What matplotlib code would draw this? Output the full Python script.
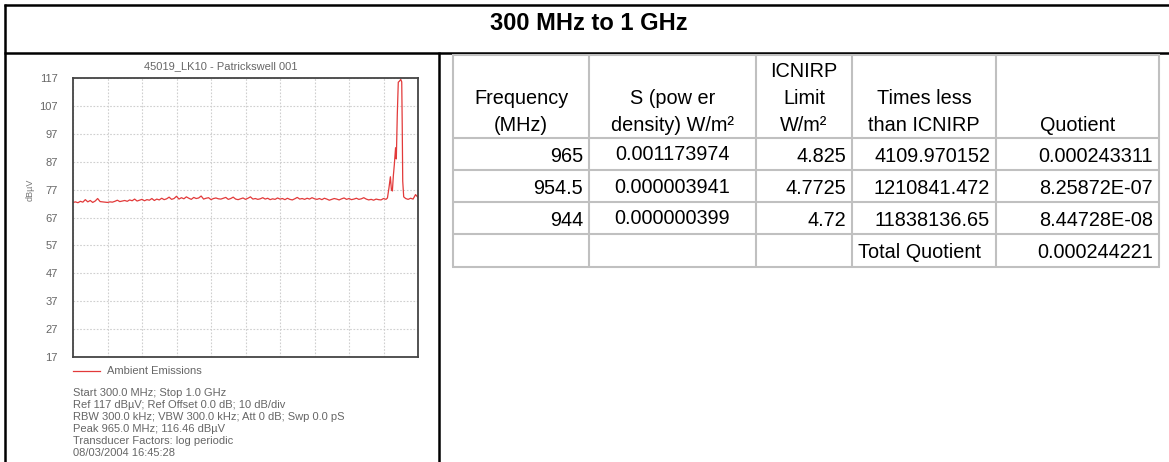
import numpy as np
import matplotlib
matplotlib.use("Agg")
import matplotlib.pyplot as plt
from matplotlib.lines import Line2D

plt.rcParams['font.family'] = ['Liberation Sans', 'DejaVu Sans']

# ---------------- data ----------------
page_title = "300 MHz to 1 GHz"
chart_title = "45019_LK10 - Patrickswell 001"
y_label = "dBµV"
y_ticks = [17, 27, 37, 47, 57, 67, 77, 87, 97, 107, 117]
x_start_mhz = 300
x_stop_mhz = 1000
legend_label = "Ambient Emissions"
info_lines = [
    "Start 300.0 MHz; Stop 1.0 GHz",
    "Ref 117 dBµV; Ref Offset 0.0 dB; 10 dB/div",
    "RBW 300.0 kHz; VBW 300.0 kHz; Att 0 dB; Swp 0.0 pS",
    "Peak 965.0 MHz; 116.46 dBµV",
    "Transducer Factors: log periodic",
    "08/03/2004 16:45:28",
]

# trace: baseline sweep (300..935 MHz in 5 MHz steps)
baseline_freq = np.arange(300, 936, 5)
baseline_level = [
    72.4, 72.6, 72.3, 72.8, 72.5, 73.4, 72.6, 73.1, 72.4, 72.9, 73.8, 72.7, 72.6, 72.5, 72.4, 72.6, 72.5, 72.8, 73.2, 72.7, 72.9,
    73.1, 72.8, 73.3, 73.0, 73.6, 72.9, 73.2, 73.5, 73.0, 73.4, 73.2, 73.8, 73.1, 73.6, 73.3, 73.9, 73.4, 73.7, 74.3, 73.5,
    73.8, 74.6, 73.6, 74.1, 73.7, 74.4, 73.9, 73.5, 74.2, 73.8, 74.0, 74.7, 73.6, 73.9, 74.1, 73.4, 73.8, 74.0, 73.7, 73.6,
    73.9, 74.2, 73.5, 73.8, 74.3, 73.6, 73.4, 73.7, 74.0, 73.5, 73.9, 74.4, 73.6, 73.8, 73.5, 73.7, 74.1, 73.6, 73.9, 73.4,
    73.7, 73.5, 74.0, 73.6, 73.8, 73.4, 73.9, 73.5, 73.3, 73.7, 74.2, 73.6, 73.8, 73.5, 73.9, 73.6, 74.1, 73.7, 73.5, 73.8,
    73.4, 73.9, 73.6, 73.2, 73.5, 73.8, 73.6, 73.3, 73.7, 74.0, 73.5, 73.8, 73.4, 73.6, 73.9, 73.5, 73.7, 74.1, 73.6, 73.3,
    73.5, 73.2, 73.6, 73.4, 73.3, 73.8, 73.5,
]
# trace: emission region near the top of the band
peak_freq = [938, 941, 944, 946, 948, 950, 952, 954.5, 956, 958, 960, 962, 965, 967, 968, 969, 971, 975, 980, 985, 990, 995, 1000]
peak_level = [74.0, 77.5, 81.6, 77.0, 76.5, 82.0, 86.0, 92.0, 88.0, 104.0, 115.5, 115.8, 116.46, 115.6, 100.0, 80.0, 74.4, 73.8, 73.5, 73.9, 73.6, 75.2, 74.2]

# table
table_headers = [
    ["Frequency", "(MHz)"],
    ["S (pow er", "density) W/m²"],
    ["ICNIRP", "Limit", "W/m²"],
    ["Times less", "than ICNIRP"],
    ["Quotient"],
]
col_frequency = ["965", "954.5", "944", ""]
col_power_density = ["0.001173974", "0.000003941", "0.000000399", ""]
col_icnirp_limit = ["4.825", "4.7725", "4.72", ""]
col_times_less = ["4109.970152", "1210841.472", "11838136.65", "Total Quotient"]
col_quotient = ["0.000243311", "8.25872E-07", "8.44728E-08", "0.000244221"]

# ---------------- figure ----------------
W, H = 1169, 462
fig = plt.figure(figsize=(W / 100, H / 100), dpi=100)


def fx(x):
    return x / W


def fy(y):
    return 1 - y / H


def hline(y, x0, x1, **kw):
    fig.add_artist(Line2D([fx(x0), fx(x1)], [fy(y), fy(y)], transform=fig.transFigure, **kw))


def vline(x, y0, y1, **kw):
    fig.add_artist(Line2D([fx(x), fx(x)], [fy(y0), fy(y1)], transform=fig.transFigure, **kw))


# outer frame
frame_kw = dict(color="black", lw=1.8, solid_capstyle="butt")
hline(5, 4, W, **frame_kw)
hline(52.5, 4, W, **frame_kw)
vline(5, 4, H, **frame_kw)
vline(439, 52, H, **frame_kw)

fig.text(fx(589), fy(29.5), page_title, ha="center", va="baseline",
         fontsize=17, fontweight="bold", color="black")

# ---------------- chart ----------------
ax_l, ax_r, ax_t, ax_b = 73, 418, 78, 357
ax = fig.add_axes([fx(ax_l), fy(ax_b), (ax_r - ax_l) / W, (ax_b - ax_t) / H])
freq_all = np.concatenate([baseline_freq, peak_freq])
level_all = np.concatenate([baseline_level, peak_level])
ax.plot(freq_all, level_all, color="#e23a3a", lw=0.9)
ax.set_xlim(x_start_mhz, x_stop_mhz)
ax.set_ylim(y_ticks[0], y_ticks[-1])
ax.set_yticks(y_ticks)
ax.set_xticks(np.linspace(x_start_mhz, x_stop_mhz, 11))
ax.set_xticklabels([])
ax.tick_params(length=0, labelsize=8, labelcolor="#666666", pad=11)
ax.grid(True, color="#cfcfcf", lw=0.8, ls=(0, (1.5, 1.5)))
for s in ax.spines.values():
    s.set_color("#444444")
    s.set_linewidth(1.3)

fig.text(fx(220.5), fy(66), chart_title, ha="center", va="center", fontsize=8, color="#666666")
fig.text(fx(30), fy(190), y_label, ha="center", va="center", rotation=90, fontsize=6.5, color="#777777")

# legend
fig.add_artist(Line2D([fx(73), fx(100)], [fy(371), fy(371)], transform=fig.transFigure,
                      color="#e23a3a", lw=0.9))
fig.text(fx(107), fy(371), legend_label, ha="left", va="center", fontsize=8, color="#666666")

for i, line in enumerate(info_lines):
    fig.text(fx(73), fy(396.5 + 11.8 * i), line, ha="left", va="baseline", fontsize=8, color="#666666")

# ---------------- table ----------------
col_edges = [453, 589, 756, 852, 996, 1159]
row_edges = [55, 138, 170, 202, 234, 267]
grid_kw = dict(color="#c0c0c0", lw=1.5, solid_capstyle="butt")
for y in row_edges:
    hline(y, col_edges[0] - 1, col_edges[-1] + 1, **grid_kw)
for x in col_edges:
    vline(x, row_edges[0], row_edges[-1], **grid_kw)

tfs = 14.3
header_baselines = [130.5, 103.5, 77]
for c, lines in enumerate(table_headers):
    cx = (col_edges[c] + col_edges[c + 1]) / 2
    for k, text in enumerate(reversed(lines)):
        fig.text(fx(cx), fy(header_baselines[k]), text, ha="center", va="baseline", fontsize=tfs, color="black")

row_baselines = [162.5, 194.5, 226.5, 258.5]
columns = [col_frequency, col_power_density, col_icnirp_limit, col_times_less, col_quotient]
for c, values in enumerate(columns):
    for r, text in enumerate(values):
        if not text:
            continue
        if c == 1:
            x, ha, dy = (col_edges[1] + col_edges[2]) / 2, "center", -2
        elif c == 3 and r == 3:
            x, ha, dy = col_edges[3] + 6, "left", 0
        else:
            x, ha, dy = col_edges[c + 1] - 6, "right", 0
        fig.text(fx(x), fy(row_baselines[r] + dy), text, ha=ha, va="baseline", fontsize=tfs, color="black")

fig.savefig("out.png", dpi=100)
